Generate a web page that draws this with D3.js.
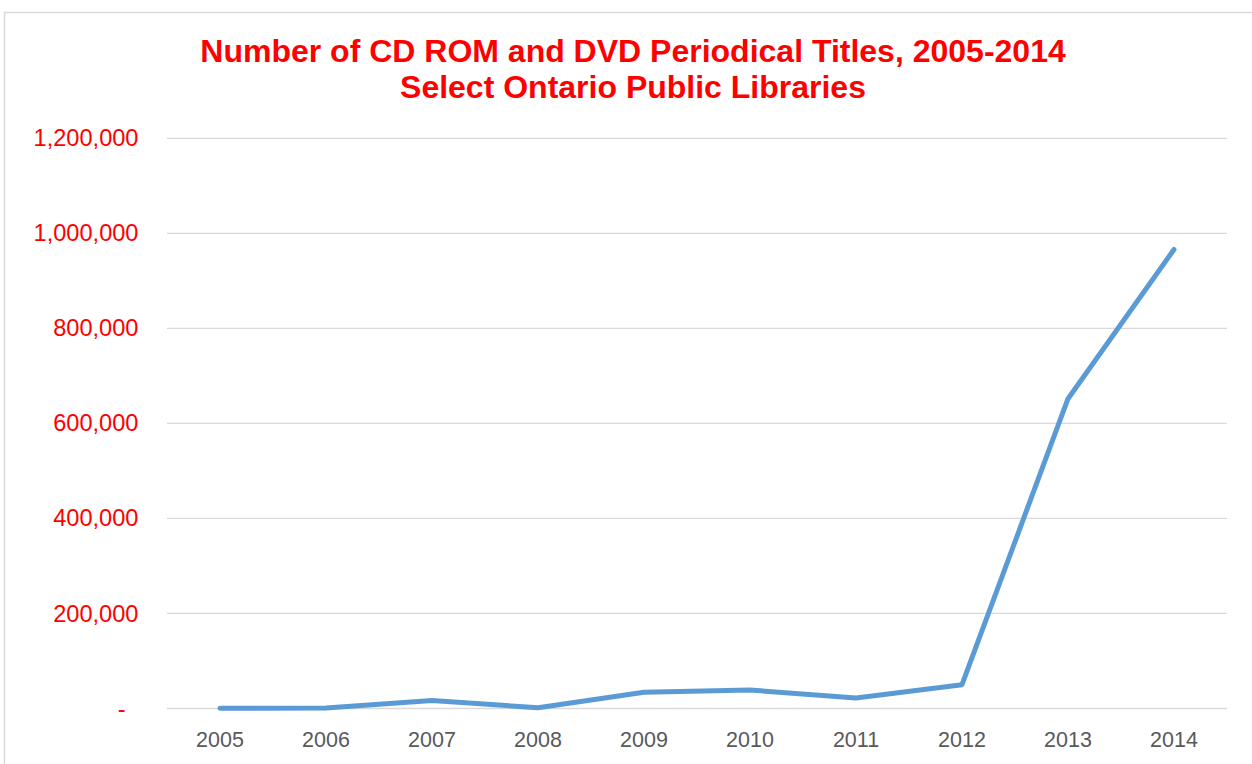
<!DOCTYPE html>
<html><head><meta charset="utf-8">
<script src="https://cdn.jsdelivr.net/npm/d3@7"></script>
<style>
html,body{margin:0;padding:0;background:#fff;}
svg{display:block;}
</style></head>
<body>
<svg id="chart" width="1252" height="764"></svg>
<script>
const years = ["2005","2006","2007","2008","2009","2010","2011","2012","2013","2014"];
const titles = [500, 1000, 17000, 1500, 34000, 39000, 22000, 50000, 652000, 966000];
const yTicks = [0, 200000, 400000, 600000, 800000, 1000000, 1200000];
const titleLines = ["Number of CD ROM and DVD Periodical Titles, 2005-2014", "Select Ontario Public Libraries"];

const svg = d3.select("#chart");
const W = 1252, H = 764;
const m = {left: 167, right: 25, top: 138.3, bottom: 55.5};

svg.append("rect").attr("x", 4.5).attr("y", 12.5).attr("width", 1262).attr("height", 780)
  .attr("fill", "#fff").attr("stroke", "#d9d9d9").attr("stroke-width", 1.5);

const x = d3.scaleBand().domain(years).range([m.left, W - m.right]).padding(0);
const y = d3.scaleLinear().domain([0, 1200000]).range([H - m.bottom, m.top]);

// gridlines
svg.append("g").selectAll("line").data(yTicks).join("line")
  .attr("x1", m.left).attr("x2", W - m.right)
  .attr("y1", d => y(d)).attr("y2", d => y(d))
  .attr("stroke", "#d9d9d9").attr("stroke-width", 1.3);

// y axis labels
const yAxis = d3.axisLeft(y).tickValues(yTicks).tickSize(0).tickPadding(0)
  .tickFormat(d => d === 0 ? "-" : d3.format(",")(d));
const gy = svg.append("g").attr("transform", `translate(${138.5},0)`).call(yAxis);
gy.select(".domain").remove();
gy.selectAll("text").attr("fill", "#ff0000")
  .style("font-family", "'Liberation Sans', Arial, sans-serif").style("font-size", "23.6px")
  .attr("dx", d => d === 0 ? -13 : 0);

// x axis labels
const xAxis = d3.axisBottom(x).tickSize(0).tickPadding(0);
const gx = svg.append("g").attr("transform", `translate(0,${y(0)})`).call(xAxis);
gx.select(".domain").remove();
gx.selectAll("text").attr("fill", "#595959").attr("dy", "1.78em")
  .style("font-family", "'Liberation Sans', Arial, sans-serif").style("font-size", "21.5px");

// line
const line = d3.line().x((d, i) => x(years[i]) + x.bandwidth() / 2).y(d => y(d));
svg.append("path").datum(titles).attr("d", line)
  .attr("fill", "none").attr("stroke", "#5b9bd5").attr("stroke-width", 5)
  .attr("stroke-linejoin", "round").attr("stroke-linecap", "round");

// title
svg.append("text").attr("x", 633).attr("y", 62).attr("text-anchor", "middle")
  .style("font-family", "'Liberation Sans', Arial, sans-serif").style("font-weight", "bold")
  .style("font-size", "32px").attr("fill", "#ff0000")
  .selectAll("tspan").data(titleLines).join("tspan")
  .attr("x", 633).attr("dy", (d, i) => i === 0 ? 0 : 35.5).text(d => d);
</script>
</body></html>
